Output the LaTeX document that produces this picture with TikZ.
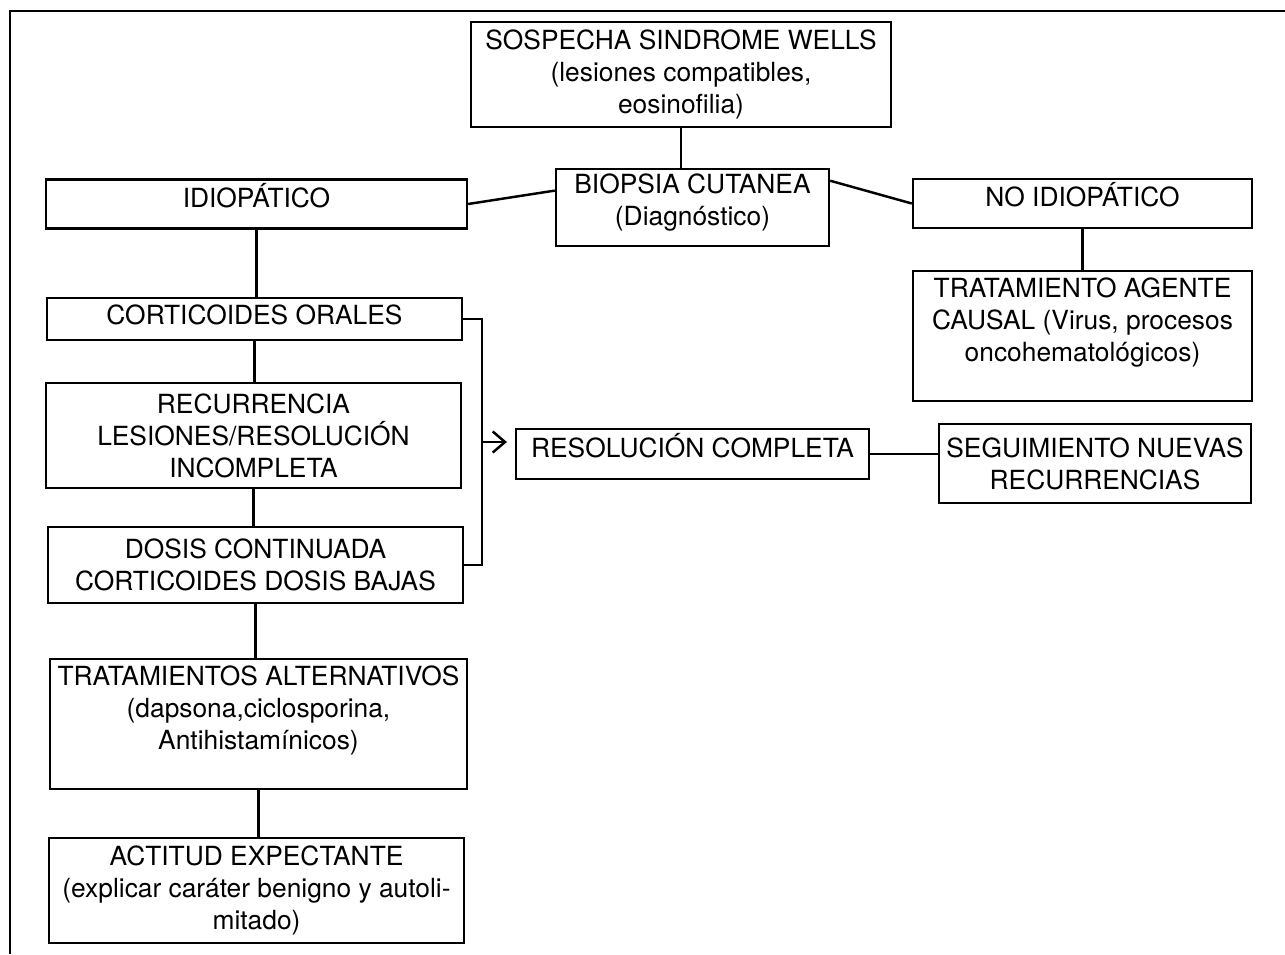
\documentclass[tikz,border=0pt]{standalone}
\usepackage{fontspec}
\setmainfont{TeX Gyre Heros}
\usetikzlibrary{arrows.meta}
\tikzset{
    caja/.style={draw, line width=1.4pt, align=center, inner sep=2pt,
        font=\fontsize{15}{18.2}\selectfont},
    arriba/.style={text depth=#1},
    linea/.style={line width=1.4pt},
}

\begin{document}
\begin{tikzpicture}[x=0.02cm, y=-0.02cm]
    \useasboundingbox (0,0) rectangle (1285,954);
    \draw[linea] (1285,11) -| (10,954);
    \node[caja, minimum width=8.4cm, minimum height=2.1cm] (sosp) at (681,74.5) {SOSPECHA SINDROME WELLS\\(lesiones compatibles,\\eosinofilia)};
    \node[caja, arriba=0.3cm, minimum width=5.46cm, minimum height=1.54cm] (biop) at (692.5,207.5) {BIOPSIA CUTANEA\\(Diagnóstico)};
    \node[caja, arriba=0.36cm, minimum width=8.42cm, minimum height=0.96cm] (idio) at (256.5,204) {IDIOPÁTICO};
    \node[caja, arriba=0.36cm, minimum width=6.78cm, minimum height=0.94cm] (noidio) at (1082.5,203.5) {NO IDIOPÁTICO};
    \node[caja, minimum width=6.78cm, minimum height=2.6cm] (agente) at (1082.5,336) {TRATAMIENTO AGENTE\\CAUSAL (Virus, procesos\\oncohematológicos)\\ ~};
    \node[caja, arriba=0.16cm, minimum width=8.3cm, minimum height=0.84cm] (cort) at (254.5,319) {CORTICOIDES ORALES};
    \node[caja, minimum width=8.3cm, minimum height=2.1cm] (recur) at (253.5,435.5) {RECURRENCIA\\LESIONES/RESOLUCIÓN\\INCOMPLETA};
    \node[caja, minimum width=8.3cm, minimum height=1.52cm] (dosis) at (255.5,565) {DOSIS CONTINUADA\\CORTICOIDES DOSIS BAJAS};
    \node[caja, minimum width=8.34cm, minimum height=2.6cm] (altern) at (258.5,724) {TRATAMIENTOS ALTERNATIVOS\\(dapsona,ciclosporina,\\Antihistamínicos)\\ ~};
    \node[caja, minimum width=8.3cm, minimum height=2.1cm] (actitud) at (256.5,890.5) {ACTITUD EXPECTANTE\\(explicar caráter benigno y autoli-\\mitado)};
    \node[caja, arriba=0.36cm, minimum width=7.06cm, minimum height=1cm] (resol) at (692.5,454) {RESOLUCIÓN COMPLETA};
    \node[caja, minimum width=6.24cm, minimum height=1.58cm] (segui) at (1095,463.5) {SEGUIMIENTO NUEVAS\\RECURRENCIAS};
    \coordinate (bus) at (482,442);

    \draw[linea] (sosp.south) -- (sosp.south |- biop.north);
    \draw[linea] (idio.east) -- (biop.173);
    \draw[linea] (biop.11) -- (noidio.west);
    \draw[linea] (noidio.south) -- (noidio.south |- agente.north);
    \draw[linea] (idio.south) -- (idio.south |- cort.north);
    \draw[linea] (cort.south) -- (cort.south |- recur.north);
    \draw[linea] (recur.south) -- (recur.south |- dosis.north);
    \draw[linea] (dosis.south) -- (dosis.south |- altern.north);
    \draw[linea] (altern.south) -- (altern.south |- actitud.north);
    \draw[linea] (cort.east) -| (bus) |- (dosis.east);
    \draw[linea, -{Straight Barb[length=7pt, width=12pt]}, shorten >=4.5pt] (bus) -- (bus -| resol.west);
    \draw[linea] (resol.east) -- (resol.east -| segui.west);
\end{tikzpicture}
\end{document}
